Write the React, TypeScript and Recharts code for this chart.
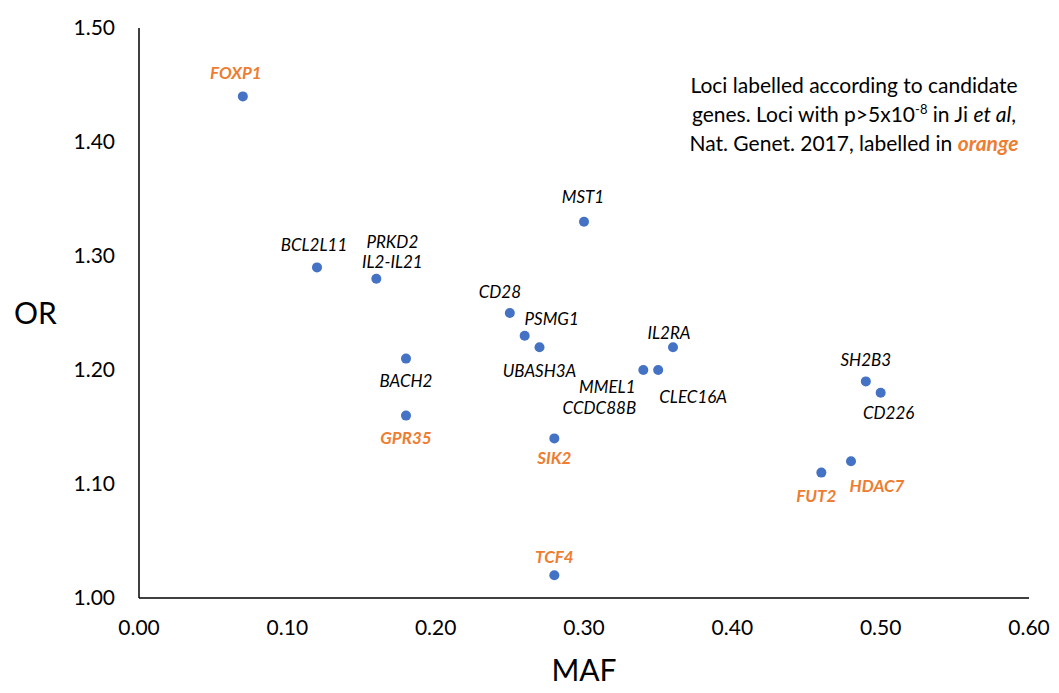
import React from 'react';
import { ScatterChart, Scatter, XAxis, YAxis, Label } from 'recharts';

// loci
const genes = ['FOXP1', 'BCL2L11', 'PRKD2|IL2-IL21', 'MST1', 'CD28', 'PSMG1', 'UBASH3A', 'BACH2', 'GPR35', 'SIK2', 'TCF4', 'MMEL1|CCDC88B', 'CLEC16A', 'IL2RA', 'SH2B3', 'CD226', 'FUT2', 'HDAC7'];
const maf = [0.07, 0.12, 0.16, 0.30, 0.25, 0.26, 0.27, 0.18, 0.18, 0.28, 0.28, 0.34, 0.35, 0.36, 0.49, 0.50, 0.46, 0.48];
const oddsRatio = [1.44, 1.29, 1.28, 1.33, 1.25, 1.23, 1.22, 1.21, 1.16, 1.14, 1.02, 1.20, 1.20, 1.22, 1.19, 1.18, 1.11, 1.12];
const notGwsInJi = [true, false, false, false, false, false, false, false, true, true, true, false, false, false, false, false, true, true];

const xTicks = [0, 0.1, 0.2, 0.3, 0.4, 0.5, 0.6];
const yTicks = [1.0, 1.1, 1.2, 1.3, 1.4, 1.5];

// label placement relative to each dot, one [dx, dy] per text line
const LABEL_POS: { [k: string]: [number, number][] } = {
  'FOXP1': [[-7, -24]],
  'BCL2L11': [[-3, -23]],
  'PRKD2|IL2-IL21': [[16, -37], [16, -17]],
  'MST1': [[-1, -25]],
  'CD28': [[-10, -22]],
  'PSMG1': [[27, -17]],
  'UBASH3A': [[0, 23]],
  'BACH2': [[0, 22]],
  'GPR35': [[0, 22]],
  'SIK2': [[0, 19]],
  'TCF4': [[0, -19]],
  'MMEL1|CCDC88B': [[-36, 16], [-44, 37]],
  'CLEC16A': [[35, 26]],
  'IL2RA': [[-4, -15]],
  'SH2B3': [[0, -22]],
  'CD226': [[8, 20]],
  'FUT2': [[-5, 23]],
  'HDAC7': [[26, 24]],
};

const BLUE = '#4472C4';
const ORANGE = '#ED7D31';
const FONT = 'Lato, "Open Sans", sans-serif';

const data = genes.map((g, i) => ({ gene: g, maf: maf[i], or: oddsRatio[i], orange: notGwsInJi[i] }));

const Dot = (props: any) => {
  const { cx, cy, payload } = props;
  const lines = (payload.gene as string).split('|');
  const pos = LABEL_POS[payload.gene] || [[0, -20]];
  return (
    <g>
      <circle cx={cx} cy={cy} r={5} fill={BLUE} />
      {lines.map((l, i) => (
        <text
          key={l}
          x={cx + pos[i][0]}
          y={cy + pos[i][1]}
          textAnchor="middle"
          dominantBaseline="central"
          fontFamily={FONT}
          fontSize={17}
          fontStyle="italic"
          fontWeight={payload.orange ? 700 : 400}
          fill={payload.orange ? ORANGE : '#000'}
        >
          {l}
        </text>
      ))}
    </g>
  );
};

export default function App() {
  return (
    <div style={{ position: 'absolute', left: 0, top: 0, width: 1059, height: 693, background: '#fff' }}>
      <ScatterChart width={1059} height={693} margin={{ top: 28, right: 30, left: 0, bottom: 0 }}>
        <XAxis
          type="number"
          dataKey="maf"
          domain={[0, 0.6]}
          ticks={xTicks}
          tickFormatter={(v) => (v as number).toFixed(2)}
          tickSize={0}
          tickMargin={22}
          axisLine={{ stroke: '#000', strokeWidth: 1.5 }}
          tick={{ fontSize: 21, fill: '#000', fontFamily: FONT }}
          height={95}
        >
          <Label value="MAF" position="insideBottom" offset={12} style={{ fontSize: 30, fill: '#000', fontFamily: FONT }} />
        </XAxis>
        <YAxis
          type="number"
          dataKey="or"
          domain={[1.0, 1.5]}
          ticks={yTicks}
          tickFormatter={(v) => (v as number).toFixed(2)}
          tickSize={0}
          tickMargin={24}
          axisLine={{ stroke: '#000', strokeWidth: 1.5 }}
          tick={{ fontSize: 21, fill: '#000', fontFamily: FONT }}
          width={139}
        >
          <Label value="OR" position="insideLeft" offset={14} style={{ fontSize: 30, fill: '#000', fontFamily: FONT }} />
        </YAxis>
        <Scatter data={data} shape={Dot} isAnimationActive={false} />
      </ScatterChart>
      <div
        style={{
          position: 'absolute',
          left: 654,
          top: 70,
          width: 400,
          textAlign: 'center',
          fontFamily: FONT,
          fontSize: 21,
          lineHeight: '29px',
          color: '#000',
        }}
      >
        Loci labelled according to candidate
        <br />
        genes. Loci with p&gt;5x10<sup style={{ fontSize: 13, lineHeight: 0 }}>-8</sup> in Ji <i>et al</i>,
        <br />
        Nat. Genet. 2017, labelled in <b style={{ color: ORANGE, fontStyle: 'italic' }}>orange</b>
      </div>
    </div>
  );
}
